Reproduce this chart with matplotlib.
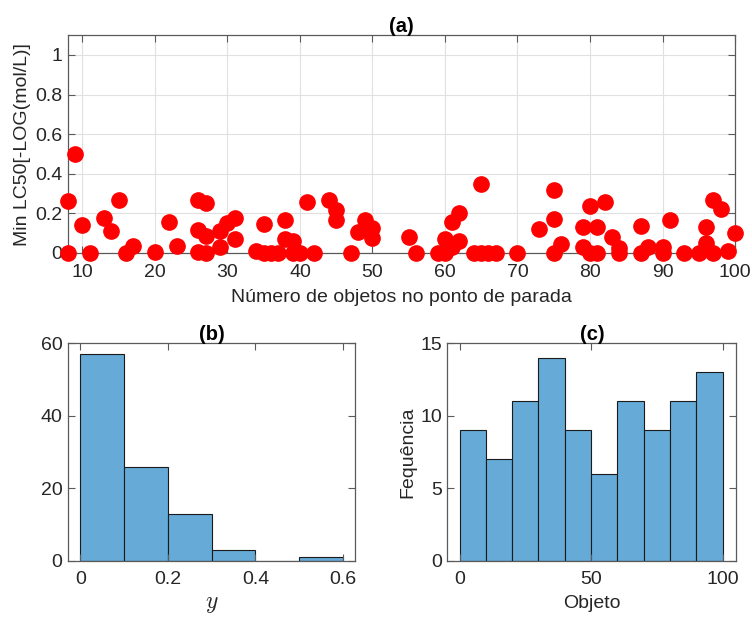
import numpy as np
import matplotlib
matplotlib.use('Agg')
import matplotlib.pyplot as plt

plt.rcParams['font.family'] = ['Liberation Sans', 'DejaVu Sans']
plt.rcParams['mathtext.fontset'] = 'cm'

# (a) pontos
obj_x = [8, 8, 9, 10, 11, 13, 14, 15, 16, 17, 20, 22, 23, 26, 27, 26, 27, 26, 27,
         29, 29, 30, 31, 31, 34, 35, 35, 36, 37, 38, 38, 39, 39, 40, 41, 42, 44,
         45, 45, 47, 48, 49, 50, 50, 55, 56, 59, 60, 60, 61, 62, 62, 61, 65, 64,
         65, 66, 67, 70, 73, 75, 75, 75, 76, 79, 79, 80, 80, 81, 81, 82, 83, 84,
         84, 87, 87, 88, 90, 90, 91, 93, 95, 96, 96, 97, 97, 98, 99, 100]
lc50_y = [0.26, 0.0, 0.50, 0.14, 0.0, 0.176, 0.11, 0.265, 0.0, 0.037, 0.007,
          0.155, 0.037, 0.27, 0.25, 0.117, 0.088, 0.005, 0.0, 0.11, 0.03, 0.15,
          0.177, 0.07, 0.01, 0.144, 0.0, 0.0, 0.0, 0.164, 0.07, 0.06, 0.0, 0.0,
          0.257, 0.0, 0.265, 0.218, 0.164, 0.0, 0.105, 0.167, 0.127, 0.076, 0.08,
          0.0, 0.0, 0.07, 0.0, 0.155, 0.2, 0.062, 0.03, 0.35, 0.0, 0.0, 0.0, 0.0,
          0.0, 0.12, 0.32, 0.17, 0.0, 0.045, 0.133, 0.03, 0.235, 0.0, 0.133, 0.0,
          0.255, 0.08, 0.025, 0.0, 0.138, 0.0, 0.03, 0.03, 0.0, 0.164, 0.0, 0.0,
          0.133, 0.05, 0.0, 0.27, 0.22, 0.01, 0.1]

# (b) histograma de y
y_edges = [0, 0.1, 0.2, 0.3, 0.4, 0.5, 0.6]
y_counts = [57, 26, 13, 3, 0, 1]

# (c) histograma de objetos
obj_edges = [0, 10, 20, 30, 40, 50, 60, 70, 80, 90, 100]
obj_counts = [9, 7, 11, 14, 9, 6, 11, 9, 11, 13]

bar_color = '#66AAD7'
axis_color = '#5a5a5a'
text_color = '#262626'
fs = 14
title_font = dict(fontsize=14.5, fontweight='bold',
                  family=['Liberation Sans Narrow', 'Liberation Sans'])

fig = plt.figure(figsize=(7.52, 6.17), dpi=100)
ax_a = fig.add_axes([0.0904, 0.590, 0.887, 0.353])
ax_b = fig.add_axes([0.0904, 0.0908, 0.382, 0.3532])
ax_c = fig.add_axes([0.595, 0.0908, 0.384, 0.3532])


def style(ax, xpad=7):
    for s in ax.spines.values():
        s.set_color(axis_color)
        s.set_linewidth(0.9)
    ax.tick_params(direction='in', top=True, right=True, labelsize=fs,
                   colors=axis_color, labelcolor=text_color, length=5, width=0.8)
    ax.tick_params(axis='x', pad=xpad)
    ax.tick_params(axis='y', pad=4)


# (a)
ax_a.plot(obj_x, lc50_y, 'o', color='red', markersize=11, clip_on=False, zorder=3)
ax_a.set_xlim(8, 100)
ax_a.set_ylim(0, 1.1)
ax_a.set_xticks(np.arange(10, 101, 10))
ax_a.set_yticks([0, 0.2, 0.4, 0.6, 0.8, 1])
ax_a.set_yticklabels(['0', '0.2', '0.4', '0.6', '0.8', '1'])
ax_a.grid(True, color='#e0e0e0', linewidth=0.8)
ax_a.set_axisbelow(True)
style(ax_a, xpad=8)
ax_a.set_title('(a)', pad=2, **title_font)
ax_a.set_xlabel('Número de objetos no ponto de parada', fontsize=fs, color=text_color, labelpad=6)
ax_a.set_ylabel('Min LC50[-LOG(mol/L)]', fontsize=fs, color=text_color, labelpad=3)

# (b)
ax_b.bar(y_edges[:-1], y_counts, width=np.diff(y_edges), align='edge',
         color=bar_color, edgecolor='#1a1a1a', linewidth=0.8)
ax_b.set_xlim(-0.028, 0.628)
ax_b.set_ylim(0, 60)
ax_b.set_xticks([0, 0.2, 0.4, 0.6])
ax_b.set_xticklabels(['0', '0.2', '0.4', '0.6'])
ax_b.set_yticks([0, 20, 40, 60])
style(ax_b)
ax_b.set_title('(b)', pad=2, **title_font)
ax_b.set_xlabel(r'$y$', fontsize=17, color=text_color, labelpad=4)

# (c)
ax_c.bar(obj_edges[:-1], obj_counts, width=np.diff(obj_edges), align='edge',
         color=bar_color, edgecolor='#1a1a1a', linewidth=0.8)
ax_c.set_xlim(-4.6, 105.2)
ax_c.set_ylim(0, 15)
ax_c.set_xticks([0, 50, 100])
ax_c.set_yticks([0, 5, 10, 15])
style(ax_c)
ax_c.set_title('(c)', pad=2, **title_font)
ax_c.set_xlabel('Objeto', fontsize=fs, color=text_color, labelpad=5)
ax_c.set_ylabel('Fequência', fontsize=fs, color=text_color, labelpad=3)

fig.savefig('out.png', dpi=100)
